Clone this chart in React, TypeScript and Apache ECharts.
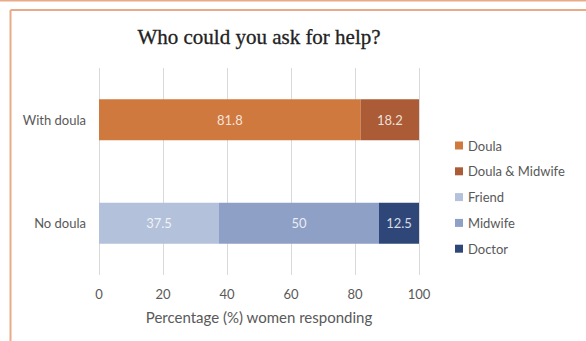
import React, { useEffect, useRef } from "react";
import * as echarts from "echarts";

const categories = ["No doula", "With doula"];
const seriesNames = ["Doula", "Doula & Midwife", "Friend", "Midwife", "Doctor"];
const doula = [null, 81.8];
const doulaMidwife = [null, 18.2];
const friend = [37.5, null];
const midwife = [50, null];
const doctor = [12.5, null];
const xTicks = [0, 20, 40, 60, 80, 100];
const colors = ["#d0793f", "#ab5b35", "#b4c1da", "#8fa0c7", "#2e4778"];

const FONT = "Lato";

export default function App() {
  const ref = useRef<HTMLDivElement>(null);
  useEffect(() => {
    document.body.style.margin = "0";
    const chart = echarts.init(ref.current!, null, { renderer: "svg" });
    const values = [doula, doulaMidwife, friend, midwife, doctor];
    chart.setOption({
      animation: false,
      backgroundColor: "#ffffff",
      color: colors,
      textStyle: { fontFamily: FONT },
      graphic: [
        { type: "line", shape: { x1: 0, y1: 0.5, x2: 586, y2: 0.5 }, style: { stroke: "#e9ab87", lineWidth: 2 } },
        { type: "line", shape: { x1: 10.5, y1: 10, x2: 586, y2: 10 }, style: { stroke: "#e9ab87", lineWidth: 2 } },
        { type: "line", shape: { x1: 10.5, y1: 10, x2: 10.5, y2: 341 }, style: { stroke: "#e9ab87", lineWidth: 2 } },
        {
          type: "text",
          x: 259,
          y: 37,
          style: {
            text: "Who could you ask for help?",
            fontFamily: "Liberation Serif",
            fontSize: 21,
            fill: "#222222",
            stroke: "#222222",
            lineWidth: 0.3,
            textAlign: "center",
            textVerticalAlign: "middle",
          },
        },
      ],
      grid: { left: 99, right: 167, top: 68, bottom: 66, containLabel: false },
      legend: {
        orient: "vertical",
        left: 455,
        top: 139,
        padding: 0,
        itemWidth: 8,
        itemHeight: 8,
        itemGap: 12.8,
        icon: "rect",
        data: seriesNames,
        textStyle: { color: "#595959", fontSize: 13, fontFamily: FONT },
      },
      xAxis: {
        type: "value",
        min: xTicks[0],
        max: xTicks[xTicks.length - 1],
        interval: xTicks[1] - xTicks[0],
        axisLine: { show: false },
        axisTick: { show: false },
        splitLine: { lineStyle: { color: "#d9d9d9", width: 1 } },
        axisLabel: { color: "#595959", fontSize: 13, margin: 12, fontFamily: FONT },
        name: "Percentage (%) women responding",
        nameLocation: "middle",
        nameGap: 34,
        nameTextStyle: { color: "#595959", fontSize: 15, fontFamily: FONT },
      },
      yAxis: {
        type: "category",
        data: categories,
        axisLine: { show: false },
        axisTick: { show: false },
        splitLine: { show: false },
        axisLabel: { color: "#595959", fontSize: 13, margin: 13, fontFamily: FONT },
      },
      series: seriesNames.map((name, i) => ({
        name,
        type: "bar",
        stack: "total",
        barWidth: 41,
        data: values[i].map((v) => (v === null ? "-" : v)),
        itemStyle: { color: colors[i] },
        label: {
          show: true,
          position: "inside",
          color: "rgba(255,255,255,0.82)",
          fontSize: 13,
          fontFamily: FONT,
        },
      })),
    });
    return () => chart.dispose();
  }, []);
  return <div ref={ref} style={{ width: 586, height: 341, position: "absolute", left: 0, top: 0 }} />;
}
